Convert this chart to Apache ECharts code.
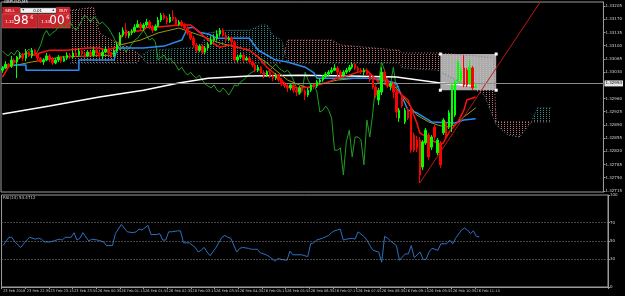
<!DOCTYPE html>
<html>
<head>
<meta charset="utf-8">
<script src="https://cdn.jsdelivr.net/npm/echarts@6/dist/echarts.min.js"></script>
<style>
  html, body { margin: 0; padding: 0; background: #000; }
  #chart { width: 625px; height: 296px; }
</style>
</head>
<body>
<div id="chart"></div>
<script>
// GBPUSD M5 candles, index 0 = first visible bar
const opens = [1.33035,1.33041,1.33051,1.33046,1.33062,1.33057,1.33070,1.33075,1.33067,1.33083,1.33073,1.33088,1.33078,1.33067,1.33057,1.33062,1.33073,1.33065,1.33054,1.33062,
  1.33070,1.33059,1.33067,1.33075,1.33070,1.33081,1.33075,1.33086,1.33078,1.33073,1.33083,1.33075,1.33088,1.33081,1.33073,1.33083,1.33091,1.33081,1.33073,1.33086,
  1.33102,1.33128,1.33141,1.33126,1.33134,1.33139,1.33149,1.33157,1.33147,1.33155,1.33163,1.33149,1.33141,1.33152,1.33168,1.33181,1.33173,1.33163,1.33176,1.33171,
  1.33157,1.33163,1.33155,1.33147,1.33134,1.33120,1.33102,1.33088,1.33099,1.33083,1.33094,1.33104,1.33115,1.33120,1.33131,1.33141,1.33128,1.33115,1.33120,1.33110,
  1.33062,1.33070,1.33075,1.33062,1.33067,1.33057,1.33049,1.33035,1.33043,1.33030,1.33022,1.33030,1.33020,1.33014,1.33022,1.33009,1.32998,1.32993,1.32988,1.32996,
  1.32982,1.32977,1.32988,1.32980,1.32969,1.32982,1.32996,1.32993,1.33004,1.33009,1.33017,1.33025,1.33030,1.33035,1.33041,1.33030,1.33022,1.33030,1.33035,1.33043,
  1.33051,1.33041,1.33035,1.33030,1.33035,1.33025,1.33009,1.32990,1.32956,1.32977,1.33030,1.33009,1.32993,1.32998,1.32977,1.32908,1.32969,1.32898,1.32929,1.32935,
  1.32863,1.32850,1.32850,1.32778,1.32842,1.32863,1.32831,1.32884,1.32816,1.32842,1.32869,1.32895,1.32884,1.32890,1.32916,1.33004,1.33009,1.33041,1.33035,1.33001,
  1.33041,1.32990];
const closes = [1.33041,1.33051,1.33046,1.33062,1.33057,1.33070,1.33075,1.33067,1.33083,1.33073,1.33088,1.33078,1.33067,1.33057,1.33062,1.33073,1.33065,1.33054,1.33062,1.33070,
  1.33059,1.33067,1.33075,1.33070,1.33081,1.33075,1.33086,1.33078,1.33073,1.33083,1.33075,1.33088,1.33081,1.33073,1.33083,1.33091,1.33081,1.33073,1.33086,1.33102,
  1.33128,1.33141,1.33126,1.33134,1.33139,1.33149,1.33157,1.33147,1.33155,1.33163,1.33149,1.33141,1.33152,1.33168,1.33181,1.33173,1.33163,1.33176,1.33171,1.33157,
  1.33163,1.33155,1.33147,1.33134,1.33120,1.33102,1.33088,1.33099,1.33083,1.33094,1.33104,1.33115,1.33120,1.33131,1.33141,1.33128,1.33115,1.33120,1.33110,1.33062,
  1.33070,1.33075,1.33062,1.33067,1.33057,1.33049,1.33035,1.33043,1.33030,1.33022,1.33030,1.33020,1.33014,1.33022,1.33009,1.32998,1.32993,1.32988,1.32996,1.32982,
  1.32977,1.32988,1.32980,1.32969,1.32982,1.32996,1.32993,1.33004,1.33009,1.33017,1.33025,1.33030,1.33035,1.33041,1.33030,1.33022,1.33030,1.33035,1.33043,1.33051,
  1.33041,1.33035,1.33030,1.33035,1.33025,1.33009,1.32990,1.32969,1.32982,1.33030,1.33009,1.32993,1.32998,1.32977,1.32924,1.32929,1.32940,1.32929,1.32908,1.32823,
  1.32823,1.32829,1.32757,1.32845,1.32876,1.32805,1.32858,1.32858,1.32850,1.32784,1.32903,1.32858,1.32922,1.32996,1.33004,1.33057,1.33035,1.32996,1.32996,1.33043,
  1.32988,1.32993];
const highs = [1.33046,1.33059,1.33054,1.33073,1.33067,1.33073,1.33083,1.33081,1.33091,1.33086,1.33094,1.33091,1.33081,1.33070,1.33067,1.33081,1.33078,1.33070,1.33067,1.33075,
  1.33073,1.33073,1.33083,1.33081,1.33088,1.33086,1.33094,1.33088,1.33083,1.33088,1.33086,1.33096,1.33094,1.33086,1.33088,1.33099,1.33096,1.33083,1.33091,1.33110,
  1.33136,1.33149,1.33160,1.33139,1.33144,1.33157,1.33168,1.33163,1.33160,1.33171,1.33168,1.33155,1.33157,1.33176,1.33187,1.33187,1.33179,1.33184,1.33194,1.33176,
  1.33168,1.33168,1.33160,1.33152,1.33139,1.33126,1.33107,1.33104,1.33104,1.33099,1.33110,1.33123,1.33128,1.33141,1.33147,1.33147,1.33134,1.33126,1.33126,1.33115,
  1.33075,1.33081,1.33081,1.33073,1.33073,1.33062,1.33054,1.33049,1.33046,1.33035,1.33035,1.33035,1.33025,1.33028,1.33025,1.33014,1.33004,1.32998,1.33001,1.32998,
  1.32988,1.32993,1.32993,1.32985,1.32988,1.33001,1.32998,1.33009,1.33014,1.33022,1.33030,1.33035,1.33043,1.33051,1.33046,1.33035,1.33035,1.33041,1.33049,1.33057,
  1.33057,1.33046,1.33041,1.33041,1.33041,1.33030,1.33014,1.32996,1.32988,1.33043,1.33035,1.33014,1.33004,1.33004,1.32982,1.32935,1.32975,1.32935,1.32937,1.32937,
  1.32869,1.32861,1.32858,1.32850,1.32882,1.32869,1.32863,1.32890,1.32855,1.32847,1.32908,1.32900,1.32929,1.33001,1.33009,1.33062,1.33043,1.33075,1.33041,1.33062,
  1.33046,1.32998];
const lows = [1.33028,1.33038,1.33041,1.33041,1.33046,1.33014,1.33065,1.33059,1.33059,1.33070,1.33067,1.33073,1.33057,1.33054,1.33049,1.33059,1.33057,1.33049,1.33051,1.33057,
  1.33054,1.33057,1.33062,1.33065,1.33067,1.33070,1.33073,1.33070,1.33067,1.33070,1.33073,1.33070,1.33075,1.33067,1.33065,1.33081,1.33075,1.33067,1.33070,1.33083,
  1.33099,1.33123,1.33120,1.33120,1.33128,1.33134,1.33147,1.33141,1.33139,1.33149,1.33144,1.33134,1.33139,1.33149,1.33163,1.33168,1.33157,1.33160,1.33165,1.33152,
  1.33152,1.33149,1.33141,1.33128,1.33115,1.33096,1.33081,1.33083,1.33078,1.33078,1.33088,1.33102,1.33110,1.33115,1.33126,1.33123,1.33110,1.33112,1.33104,1.33057,
  1.33057,1.33065,1.33057,1.33059,1.33051,1.33043,1.33030,1.33030,1.33025,1.33014,1.33017,1.33014,1.33006,1.33009,1.33004,1.32993,1.32988,1.32977,1.32982,1.32975,
  1.32967,1.32972,1.32975,1.32956,1.32964,1.32977,1.32985,1.32988,1.32998,1.33004,1.33014,1.33020,1.33025,1.33033,1.33017,1.33017,1.33017,1.33025,1.33030,1.33038,
  1.33035,1.33030,1.33025,1.33022,1.33020,1.33004,1.32985,1.32961,1.32943,1.32969,1.33001,1.32988,1.32982,1.32961,1.32908,1.32898,1.32935,1.32892,1.32903,1.32816,
  1.32818,1.32818,1.32736,1.32770,1.32837,1.32797,1.32823,1.32850,1.32810,1.32776,1.32863,1.32853,1.32879,1.32871,1.32911,1.32998,1.33001,1.32990,1.32990,1.32996,
  1.32982,1.32988];

// indicator lines as [bar index, price]
const ma200 = [[0,1.32919],[16,1.32940],[33,1.32964],[48,1.32982],[60,1.33001],[70,1.33014],[84,1.33020],[101,1.33022],[118,1.33020],[134,1.33017],[149,1.33001],[161,1.32993]];
const kijun = [[0,1.33041],[2,1.33049],[8,1.33049],[8,1.33035],[26,1.33035],[26,1.33062],[38,1.33062],[39,1.33094],[48,1.33094],[55,1.33099],[61,1.33115],[63,1.33147],[65,1.33149],[67,1.33136],[70,1.33131],[73,1.33120],[84,1.33120],[87,1.33088],[93,1.33062],[97,1.33057],[103,1.33043],[106,1.33028],[107,1.33014],[125,1.33014],[129,1.33009],[134,1.33001],[136,1.32964],[138,1.32929],[141,1.32922],[146,1.32898],[154,1.32895],[157,1.32903],[161,1.32906]];
const tenkan = [[0,1.33017],[2,1.33043],[8,1.33081],[10,1.33075],[16,1.33088],[22,1.33088],[29,1.33094],[33,1.33094],[35,1.33088],[39,1.33096],[41,1.33134],[48,1.33141],[49,1.33149],[52,1.33149],[60,1.33155],[64,1.33155],[67,1.33136],[70,1.33115],[74,1.33096],[77,1.33102],[80,1.33096],[84,1.33088],[87,1.33070],[90,1.33043],[94,1.33017],[97,1.32990],[101,1.32988],[104,1.32990],[107,1.32996],[111,1.33004],[114,1.33014],[118,1.33022],[121,1.33030],[124,1.33035],[128,1.33004],[131,1.32996],[134,1.32982],[138,1.32956],[141,1.32895],[142,1.32869],[146,1.32850],[149,1.32837],[150,1.32842],[152,1.32871],[155,1.32898],[157,1.32929],[158,1.32956],[161,1.32964]];
const maOlive = [[0,1.33041],[10,1.33057],[20,1.33070],[37,1.33075],[40,1.33102],[47,1.33115],[53,1.33134],[60,1.33147],[67,1.33128],[74,1.33107],[84,1.33088],[90,1.33054],[97,1.33009],[101,1.32996],[104,1.32988],[107,1.32996],[114,1.33009],[121,1.33014],[128,1.33014],[134,1.32988],[138,1.32948],[141,1.32916],[145,1.32898],[148,1.32890],[151,1.32884],[154,1.32890],[157,1.32911],[161,1.32935]];
const spanA = [[23,1.33054],[46,1.33054],[47,1.33073],[50,1.33088],[67,1.33096],[70,1.33134],[77,1.33141],[84,1.33141],[88,1.33155],[90,1.33155],[92,1.33128],[95,1.33115],[96,1.33083],[97,1.33054],[135,1.33054],[136,1.33041],[148,1.33035],[161,1.32982],[164,1.32969],[168,1.32890],[172,1.32863],[176,1.32858],[180,1.32898],[182,1.32935],[187,1.32935]];
const spanB = [[23,1.33194],[31,1.33202],[32,1.33168],[33,1.33134],[37,1.33115],[44,1.33094],[47,1.33073],[49,1.33054],[95,1.33054],[96,1.33083],[97,1.33115],[112,1.33115],[115,1.33102],[135,1.33088],[136,1.33081],[148,1.33081],[161,1.33073],[167,1.33067],[168,1.32898],[180,1.32898],[187,1.32898]];
// cloud pieces: from bar, to bar, 0 = teal, 1 = pink
const kumoSegs = [[23,47,1],[47,96,0],[96,180,1],[180,187,0]];

const rsi = [[0,45],[2,54],[3,54],[4,49],[6,43],[7,47],[8,51],[9,54],[11,52],[12,53],[13,52],[14,49],[16,49],[17,50],[19,52],[20,51],[21,54],[23,54],[24,59],[25,51],[26,53],[27,59],[29,50],[30,52],[32,51],[34,49],[35,45],[37,45],[38,58],[40,68],[42,60],[44,59],[45,60],[46,63],[47,62],[49,67],[50,57],[52,57],[53,58],[54,51],[55,51],[56,60],[57,60],[59,61],[60,61],[61,48],[63,48],[65,43],[66,38],[67,40],[68,43],[69,38],[70,34],[72,43],[74,54],[75,56],[76,54],[77,53],[79,38],[80,42],[81,43],[83,42],[84,41],[85,41],[86,41],[87,37],[89,35],[90,33],[92,28],[93,31],[94,30],[96,29],[97,39],[98,35],[101,35],[103,33],[104,47],[105,48],[106,51],[108,53],[110,56],[111,59],[112,61],[114,63],[115,51],[116,52],[118,53],[119,52],[120,60],[122,55],[123,51],[124,45],[125,40],[127,38],[128,27],[129,55],[130,53],[131,50],[133,45],[134,29],[136,36],[137,36],[138,45],[139,32],[141,38],[142,30],[143,30],[144,38],[145,42],[146,41],[147,40],[148,47],[150,47],[151,51],[152,47],[153,53],[155,62],[156,64],[157,62],[158,58],[159,61],[160,55],[161,54.47]];
const rsiLevels = [30, 50, 70];

const priceTicks = [1.32715,1.32750,1.32785,1.32820,1.32855,1.32890,1.32925,1.32960,1.33030,1.33065,1.33100,1.33135,1.33170,1.33205];
const rsiTicks = [0, 30, 50, 70, 100];
const timeTicks = [[0,'23 Feb 2018'],[8,'23 Feb 22:35'],[16,'23 Feb 23:15'],[24,'23 Feb 23:55'],[32,'26 Feb 00:35'],[40,'26 Feb 01:15'],[48,'26 Feb 01:55'],[56,'26 Feb 02:35'],[64,'26 Feb 03:15'],[72,'26 Feb 03:55'],[80,'26 Feb 04:35'],[88,'26 Feb 05:15'],[96,'26 Feb 05:55'],[104,'26 Feb 06:35'],[112,'26 Feb 07:15'],[120,'26 Feb 07:55'],[128,'26 Feb 08:35'],[136,'26 Feb 09:15'],[144,'26 Feb 09:55'],[152,'26 Feb 10:35'],[160,'26 Feb 11:15']];

const bid = 1.32993;
const greenLevel = 1.33054;
const redLevel = 1.32884;
const trendLine = [[142, 1.32736], [183, 1.33216]];
const selBox = [[149, 1.33078], [168, 1.32982]];

const N = 205;
const cats = Array.from({ length: N }, (_, i) => String(i));
const tickMap = {};
timeTicks.forEach(t => { tickMap[t[0]] = t[1]; });

function dots(color) {
  const c = document.createElement('canvas');
  c.width = 3; c.height = 2;
  const g = c.getContext('2d');
  g.fillStyle = color;
  g.fillRect(0, 0, 1, 1);
  return { image: c, repeat: 'repeat' };
}
const tealFill = dots('#358a8a');
const pinkFill = dots('#c07070');

const font = 'DejaVu Sans';
const axisGray = '#9a9a9a';

const chart = echarts.init(document.getElementById('chart'), null, { renderer: 'canvas' });

chart.setOption({
  animation: false,
  backgroundColor: '#000000',
  grid: [
    { left: 1, top: 2, width: 607, height: 190, show: true, borderColor: axisGray, borderWidth: 1 },
    { left: 1, top: 195, width: 607, height: 92, show: true, borderColor: axisGray, borderWidth: 1 }
  ],
  xAxis: [
    { type: 'category', gridIndex: 0, data: cats, boundaryGap: true,
      axisLine: { show: false }, axisTick: { show: false }, axisLabel: { show: false }, splitLine: { show: false } },
    { type: 'category', gridIndex: 1, data: cats, boundaryGap: true,
      axisLine: { show: true, lineStyle: { color: axisGray } },
      axisTick: { show: true, length: 2, interval: i => tickMap[i] !== undefined, lineStyle: { color: axisGray } },
      axisLabel: { show: true, showMinLabel: true, hideOverlap: false, interval: i => tickMap[i] !== undefined,
        formatter: (v, i) => tickMap[i] || '',
        color: '#c8c8c8', fontSize: 3.6, fontFamily: font, margin: 2, align: 'left' },
      splitLine: { show: false } }
  ],
  yAxis: [
    { type: 'value', gridIndex: 0, position: 'right', min: 1.32712, max: 1.33216,
      axisLine: { show: true, lineStyle: { color: axisGray } },
      axisTick: { show: true, length: 2, customValues: priceTicks, lineStyle: { color: axisGray } },
      axisLabel: { show: true, customValues: priceTicks, formatter: v => v.toFixed(5),
        color: '#d0d0d0', fontSize: 4, fontFamily: font, margin: 2 },
      splitLine: { show: false } },
    { type: 'value', gridIndex: 1, position: 'right', min: 0, max: 100,
      axisLine: { show: true, lineStyle: { color: axisGray } },
      axisTick: { show: true, length: 2, customValues: rsiTicks, lineStyle: { color: axisGray } },
      axisLabel: { show: true, customValues: rsiTicks, color: '#d0d0d0', fontSize: 4, fontFamily: font, margin: 2 },
      splitLine: { show: false } }
  ],
  series: [
    { // ichimoku cloud, dotted fill
      type: 'custom', xAxisIndex: 0, yAxisIndex: 0, z: 1, silent: true, clip: true,
      data: kumoSegs.map(s => [s[0], spanA[0][1]]),
      renderItem: (params, api) => {
        const seg = kumoSegs[params.dataIndex];
        const inSeg = p => p[0] >= seg[0] && p[0] <= seg[1];
        const top = spanA.filter(inSeg).map(p => api.coord(p));
        const bot = spanB.filter(inSeg).reverse().map(p => api.coord(p));
        return { type: 'polygon', shape: { points: top.concat(bot) },
          style: { fill: seg[2] ? pinkFill : tealFill } };
      }
    },
    { type: 'line', xAxisIndex: 0, yAxisIndex: 0, z: 2, data: spanA, symbol: 'none', silent: true,
      lineStyle: { color: '#358a8a', width: 1, type: [1, 2] } },
    { type: 'line', xAxisIndex: 0, yAxisIndex: 0, z: 2, data: spanB, symbol: 'none', silent: true,
      lineStyle: { color: '#c07070', width: 1, type: [1, 2] } },
    { // selected rectangle object
      type: 'custom', xAxisIndex: 0, yAxisIndex: 0, z: 2, silent: true,
      data: [selBox[0]],
      renderItem: (params, api) => {
        const a = api.coord(selBox[0]);
        const b = api.coord(selBox[1]);
        const kids = [{ type: 'rect', shape: { x: a[0], y: a[1], width: b[0] - a[0], height: b[1] - a[1] },
          style: { fill: 'rgba(196,196,196,0.88)' } }];
        [[a[0], a[1]], [b[0], a[1]], [a[0], b[1]], [b[0], b[1]]].forEach(p => {
          kids.push({ type: 'rect', shape: { x: p[0] - 1.5, y: p[1] - 1.5, width: 3, height: 3 }, style: { fill: '#ffffff' } });
        });
        return { type: 'group', children: kids };
      }
    },
    { // chikou span: closes drawn 26 bars back
      type: 'line', xAxisIndex: 0, yAxisIndex: 0, z: 3, symbol: 'none', silent: true,
      data: closes.map((c, i) => [i - 26, c]).filter(p => p[0] >= 0),
      lineStyle: { color: '#1f9e1f', width: 1 } },
    { type: 'line', xAxisIndex: 0, yAxisIndex: 0, z: 3, data: ma200, symbol: 'none', silent: true,
      lineStyle: { color: '#ffffff', width: 1.5 } },
    { type: 'line', xAxisIndex: 0, yAxisIndex: 0, z: 4, data: maOlive, symbol: 'none', silent: true,
      lineStyle: { color: '#9a9a10', width: 1 } },
    { type: 'line', xAxisIndex: 0, yAxisIndex: 0, z: 4, data: kijun, symbol: 'none', silent: true,
      lineStyle: { color: '#2a8cf0', width: 1.5 } },
    { type: 'line', xAxisIndex: 0, yAxisIndex: 0, z: 4, data: tenkan, symbol: 'none', silent: true,
      lineStyle: { color: '#ff1010', width: 1.5 } },
    {
      type: 'candlestick', xAxisIndex: 0, yAxisIndex: 0, z: 5, barWidth: 2, silent: true,
      data: opens.map((o, i) => [o, closes[i], lows[i], highs[i]]),
      itemStyle: { color: '#00ff00', color0: '#ff0000', borderColor: '#00ff00', borderColor0: '#ff0000', borderWidth: 1 },
      markLine: {
        silent: true, symbol: ['none', 'none'], animation: false,
        data: [
          { yAxis: greenLevel, lineStyle: { color: '#128c12', width: 1, type: [4, 1, 1, 1] }, label: { show: false } },
          { yAxis: redLevel, lineStyle: { color: '#8a0a0a', width: 1, type: [4, 2, 1, 2] }, label: { show: false } },
          [{ coord: trendLine[0], lineStyle: { color: '#c01818', width: 1, type: 'solid' }, label: { show: false } },
           { coord: trendLine[1] }],
          { yAxis: bid, lineStyle: { color: '#8c8c8c', width: 1, type: 'solid' },
            label: { show: true, position: 'end', distance: 1, formatter: bid.toFixed(5), color: '#000',
              backgroundColor: '#e6e6e6', padding: [1, 1], fontSize: 4, fontFamily: font } }
        ]
      }
    },
    {
      type: 'line', xAxisIndex: 1, yAxisIndex: 1, data: rsi, symbol: 'none', silent: true, z: 3,
      lineStyle: { color: '#2f6fc0', width: 1 },
      markLine: {
        silent: true, symbol: ['none', 'none'], animation: false, label: { show: false },
        lineStyle: { color: '#8a8a8a', width: 1, type: [1, 2] },
        data: rsiLevels.map(v => ({ yAxis: v }))
      }
    }
  ],
  graphic: [
    { type: 'text', left: 4, top: 0, z: 100, style: { text: 'GBPUSD,M5', fill: '#e0e0e0', fontSize: 4, fontFamily: font } },
    { type: 'text', left: 3, top: 196, z: 100, style: { text: 'RSI(14) 54.4712', fill: '#c8c8c8', fontSize: 4, fontFamily: font } },
    { type: 'group', left: 2, top: 7, z: 100, children: [
      { type: 'rect', shape: { x: 0, y: 0, width: 18, height: 7 }, style: { fill: '#c8232b' } },
      { type: 'text', style: { text: 'SELL', x: 3, y: 1.5, fill: '#ffffff', fontSize: 4, fontFamily: font } },
      { type: 'rect', shape: { x: 18, y: 1, width: 36, height: 5 }, style: { fill: '#f2f2f2', stroke: '#7a7a7a', lineWidth: 0.5 } },
      { type: 'text', style: { text: '▾', x: 20, y: 1, fill: '#333', fontSize: 4, fontFamily: font } },
      { type: 'text', style: { text: '0.01', x: 31, y: 1.6, fill: '#000', fontSize: 4, fontFamily: font } },
      { type: 'text', style: { text: '▴', x: 50, y: 1, fill: '#333', fontSize: 4, fontFamily: font } },
      { type: 'rect', shape: { x: 54, y: 0, width: 14, height: 7 }, style: { fill: '#c8232b' } },
      { type: 'text', style: { text: 'BUY', x: 57, y: 1.5, fill: '#ffffff', fontSize: 4, fontFamily: font } },
      { type: 'rect', shape: { x: 0, y: 7, width: 35, height: 14 }, style: { fill: '#c8232b', stroke: '#e07070', lineWidth: 0.5 } },
      { type: 'rect', shape: { x: 36, y: 7, width: 32, height: 14 }, style: { fill: '#c8232b', stroke: '#e07070', lineWidth: 0.5 } },
      { type: 'text', style: { text: '1.32', x: 3, y: 13, fill: '#ffffff', fontSize: 4, fontFamily: font } },
      { type: 'text', style: { text: '98', x: 11, y: 8, fill: '#ffffff', fontSize: 12, fontFamily: font } },
      { type: 'text', style: { text: '6', x: 28, y: 8.5, fill: '#ffffff', fontSize: 5, fontFamily: font } },
      { type: 'text', style: { text: '1.33', x: 39, y: 13, fill: '#ffffff', fontSize: 4, fontFamily: font } },
      { type: 'text', style: { text: '00', x: 47, y: 8, fill: '#ffffff', fontSize: 12, fontFamily: font } },
      { type: 'text', style: { text: '6', x: 64, y: 8.5, fill: '#ffffff', fontSize: 5, fontFamily: font } }
    ] }
  ]
});
</script>
</body>
</html>
